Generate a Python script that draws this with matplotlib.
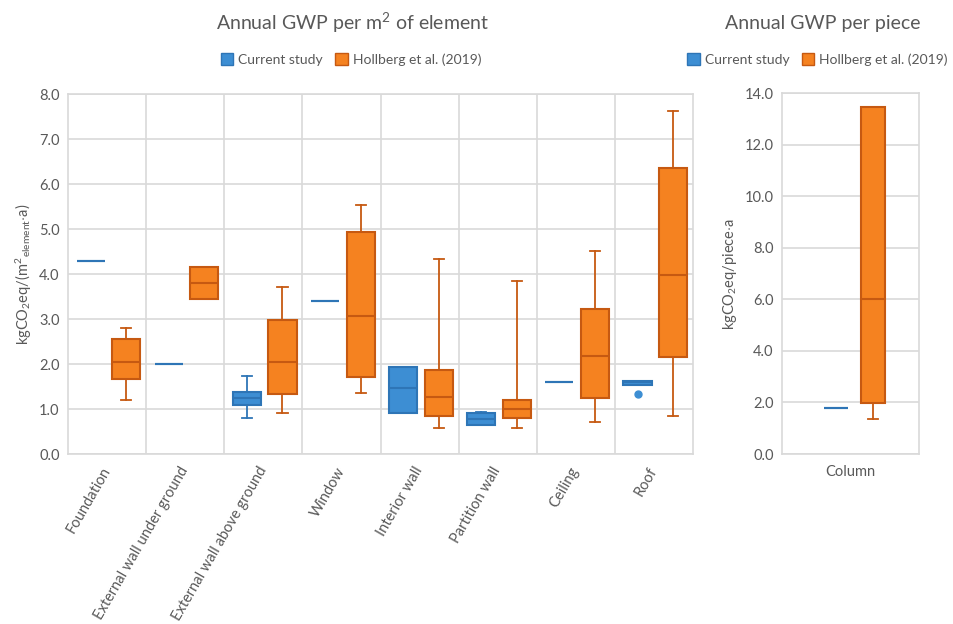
import numpy as np
import matplotlib
matplotlib.use("Agg")
import matplotlib.pyplot as plt
from matplotlib.patches import Patch

plt.rcParams['font.family'] = ['Lato', 'DejaVu Sans']
plt.rcParams['mathtext.fontset'] = 'custom'
plt.rcParams['mathtext.rm'] = 'Lato'
plt.rcParams['mathtext.it'] = 'Lato:italic'

categories = ['Foundation', 'External wall under ground', 'External wall above ground',
              'Window', 'Interior wall', 'Partition wall', 'Ceiling', 'Roof']

# current study (per m2 of element)
cur_min = [4.30, 2.01, 0.79, 3.41, 0.91, 0.64, 1.60, 1.54]
cur_q1 = [4.30, 2.01, 1.10, 3.41, 0.92, 0.64, 1.60, 1.54]
cur_med = [4.30, 2.01, 1.24, 3.41, 1.46, 0.78, 1.60, 1.60]
cur_q3 = [4.30, 2.01, 1.38, 3.41, 1.93, 0.92, 1.60, 1.63]
cur_max = [4.30, 2.01, 1.74, 3.41, 1.94, 0.93, 1.60, 1.63]
cur_out = [[], [], [], [], [], [], [], [1.34]]

# Hollberg et al. (2019)
hol_min = [1.20, 3.44, 0.91, 1.35, 0.58, 0.57, 0.72, 0.84]
hol_q1 = [1.66, 3.44, 1.34, 1.71, 0.84, 0.81, 1.25, 2.16]
hol_med = [2.05, 3.80, 2.05, 3.06, 1.27, 1.01, 2.17, 3.99]
hol_q3 = [2.56, 4.16, 2.97, 4.93, 1.87, 1.20, 3.22, 6.35]
hol_max = [2.80, 4.16, 3.71, 5.54, 4.34, 3.84, 4.52, 7.62]

# per piece
piece_cat = ['Column']
piece_cur = [1.77]
piece_hol_min = [1.36]
piece_hol_q1 = [1.96]
piece_hol_med = [6.03]
piece_hol_q3 = [13.46]
piece_hol_max = [13.46]

BLUE, BLUE_E = '#3D8ED3', '#2E75B6'
ORANGE, ORANGE_E = '#F58220', '#C65911'
GRID = '#D9D9D9'
TXT = '#595959'


def stats(lo, q1, med, q3, hi, out=None):
    return [dict(whislo=a, q1=b, med=c, q3=d, whishi=e, fliers=(f or []))
            for a, b, c, d, e, f in zip(lo, q1, med, q3, hi, out or [None] * len(lo))]


def draw(ax, st, pos, width, cap, face, edge):
    ax.bxp(st, positions=pos, widths=width, patch_artist=True, manage_ticks=False,
           capwidths=cap, showfliers=True,
           boxprops=dict(facecolor=face, edgecolor=edge, linewidth=1.5),
           medianprops=dict(color=edge, linewidth=1.5),
           whiskerprops=dict(color=edge, linewidth=1.3),
           capprops=dict(color=edge, linewidth=1.3),
           flierprops=dict(marker='o', markerfacecolor=face, markeredgecolor=face,
                           markersize=5))


def style(ax, ymax, step):
    ax.set_ylim(0, ymax)
    ax.set_yticks(np.arange(0, ymax + 0.01, step))
    ax.set_yticklabels([f'{v:.1f}' for v in np.arange(0, ymax + 0.01, step)])
    ax.yaxis.grid(True, color=GRID, linewidth=1.2)
    ax.set_axisbelow(True)
    for s in ax.spines.values():
        s.set_color(GRID)
        s.set_linewidth(1.2)
    ax.tick_params(length=0, colors=TXT, labelsize=10.5, pad=6)


fig = plt.figure(figsize=(9.54, 6.24), dpi=100)

# left panel
ax = fig.add_axes([0.0713, 0.2724, 0.6551, 0.5766])
x = np.arange(1, len(categories) + 1)
draw(ax, stats(cur_min, cur_q1, cur_med, cur_q3, cur_max, cur_out), x - 0.21, 0.36, 0.13,
     BLUE, BLUE_E)
draw(ax, stats(hol_min, hol_q1, hol_med, hol_q3, hol_max), x + 0.245, 0.36, 0.13,
     ORANGE, ORANGE_E)
ax.set_xlim(0.5, len(categories) + 0.5)
for b in np.arange(1.5, len(categories), 1):
    ax.axvline(b, color=GRID, linewidth=1.2, zorder=0)
style(ax, 8.0, 1.0)
ax.set_xticks(x)
ax.set_xticklabels(categories, rotation=60, ha='right', va='center',
                   rotation_mode='anchor', fontsize=10.5)
ax.tick_params(axis='x', pad=10)
ax.set_ylabel(r'kgCO$_2$eq/(m$^2$$_{\mathrm{element}}$$\cdot$a)', color=TXT, fontsize=10.5)

# right panel
ax2 = fig.add_axes([0.8197, 0.2724, 0.1436, 0.5785])
draw(ax2, stats(piece_cur, piece_cur, piece_cur, piece_cur, piece_cur), [1 - 0.106], 0.175,
     0.073, BLUE, BLUE_E)
draw(ax2, stats(piece_hol_min, piece_hol_q1, piece_hol_med, piece_hol_q3, piece_hol_max),
     [1 + 0.164], 0.175, 0.073, ORANGE, ORANGE_E)
ax2.set_xlim(0.5, 1.5)
style(ax2, 14.0, 2.0)
ax2.set_xticks([1])
ax2.set_xticklabels(piece_cat, fontsize=10.5)
ax2.tick_params(axis='x', pad=8)
ax2.set_ylabel(r'kgCO$_2$eq/piece$\cdot$a', color=TXT, fontsize=10.5)

# titles and legends
fig.text(0.37, 0.963, r'Annual GWP per m$^2$ of element', ha='center', va='center',
         fontsize=14, color=TXT)
fig.text(0.862, 0.963, 'Annual GWP per piece', ha='center', va='center',
         fontsize=14, color=TXT)
handles = [Patch(facecolor=BLUE, edgecolor=BLUE_E, label='Current study'),
           Patch(facecolor=ORANGE, edgecolor=ORANGE_E, label='Hollberg et al. (2019)')]
for cx in (0.368, 0.857):
    fig.legend(handles=handles, loc='center', bbox_to_anchor=(cx, 0.905), ncol=2,
               frameon=False, fontsize=10, handlelength=0.9, handleheight=0.9,
               handletextpad=0.35, columnspacing=0.9, labelcolor=TXT,
               borderpad=0.1, borderaxespad=0.1)

fig.savefig('out.png', dpi=100)
